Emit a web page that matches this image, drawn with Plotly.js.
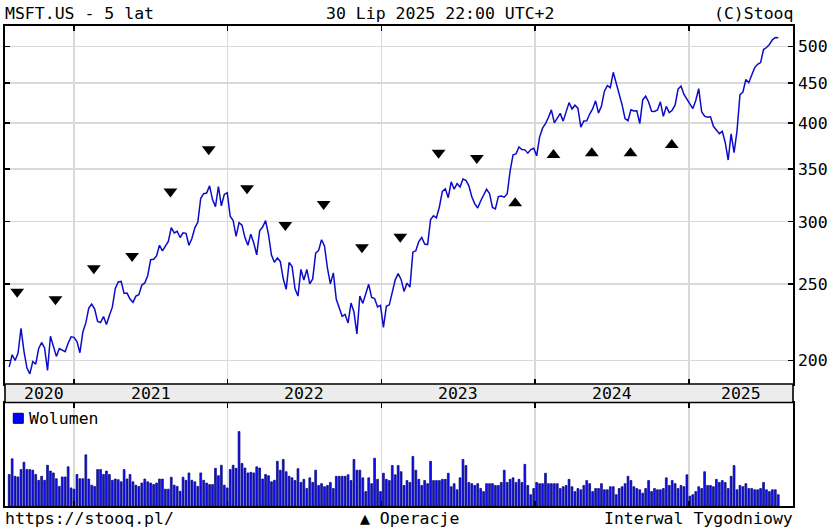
<!DOCTYPE html>
<html>
<head>
<meta charset="utf-8">
<script src="https://cdn.plot.ly/plotly-3.0.1.min.js"></script>
<style>
html,body{margin:0;padding:0;background:#fff;}
#chart{width:835px;height:531px;}
</style>
</head>
<body>
<div id="chart"></div>
<script>
// Weekly series (week ending), first week and step
const weekStart = '2020-07-31';
const weekStepMs = 7 * 24 * 3600 * 1000;

// Weekly close (adjusted)
const closes = [
196.4,203.5,200.1,
204.5,219.8,205.7,195.9,192.4,199.5,198.0,207.2,210.9,207.6,194.4,214.8,207.9,
202.5,207.2,206.4,205.3,210.4,214.4,214.1,211.4,204.7,217.5,223.3,233.2,235.9,
232.5,224.2,223.5,227.5,222.3,228.2,233.8,246.9,251.6,252.0,243.3,243.6,239.4,
237.1,241.5,242.5,249.4,250.9,256.3,268.5,268.8,271.5,280.1,275.5,279.9,283.2,
294.9,290.4,291.8,286.5,290.5,290.0,280.1,285.7,294.7,299.5,321.3,325.6,326.2,
333.1,320.0,313.5,332.5,314.3,324.9,326.5,304.8,301.1,287.4,299.2,297.0,286.4,
280.1,289.2,281.9,272.4,292.2,295.4,301.0,288.9,272.2,266.5,269.9,267.2,254.0,
246.3,266.4,263.3,246.7,241.5,261.0,253.1,261.0,250.3,253.9,273.7,275.9,284.6,
279.6,262.0,250.2,258.4,239.2,232.5,227.6,228.9,223.3,236.6,230.5,216.3,241.5,
236.4,242.5,249.9,240.5,239.8,233.9,235.0,220.4,234.4,235.4,243.2,253.2,257.8,
253.5,244.8,250.8,247.9,274.5,275.6,283.2,286.5,281.1,280.7,301.9,305.2,303.5,
313.4,327.8,330.2,321.8,337.1,329.9,335.3,332.0,339.9,338.5,333.2,322.7,316.1,
312.3,318.7,324.3,329.8,325.8,312.8,311.5,322.9,323.4,322.3,325.4,348.1,364.8,
365.7,373.2,370.3,370.0,366.5,370.3,371.8,363.6,384.1,394.2,399.4,406.6,415.8,
400.3,406.5,411.6,402.4,412.5,424.7,416.8,421.5,417.9,395.4,402.5,402.8,410.8,
417.0,426.9,412.0,420.6,439.2,446.4,443.6,464.0,450.1,433.8,422.0,405.4,402.9,
416.0,414.4,414.7,399.4,428.1,432.7,425.5,414.1,413.9,415.7,425.7,408.0,420.1,412.6,
415.4,421.9,441.9,445.6,434.9,428.9,421.7,417.4,427.4,442.4,413.5,408.2,406.9,
407.5,396.3,392.6,387.9,390.6,378.1,359.2,387.8,367.1,391.1,434.5,437.9,
454.3,450.2,460.4,470.4,475.0,477.4,495.9,498.8,503.3,510.1,513.7,513.2
];

// Weekly volume (millions)
const volumes = [
103,154,97,95,119,143,119,119,117,103,84,97,84,133,114,108,89,64,95,95,
128,59,55,103,89,89,167,88,68,64,119,119,103,114,103,84,88,86,79,119,
88,103,79,68,64,75,88,79,75,70,75,88,88,55,55,94,68,64,48,94,
84,108,84,79,64,108,84,75,70,70,123,99,133,68,59,119,133,123,243,139,
124,108,110,108,128,124,88,103,99,79,84,
146,117,152,112,97,92,83,122,77,87,57,92,77,117,67,73,63,67,77,57,
97,97,97,97,102,83,152,117,117,92,47,92,73,156,87,47,107,87,83,132,
102,132,112,67,83,77,162,117,87,67,83,73,146,83,83,83,87,87,107,63,
73,53,92,152,132,77,73,67,73,57,47,73,73,73,67,67,77,117,77,87,
92,77,87,77,136,67,37,57,77,73,73,107,73,73,
73,73,57,63,67,87,63,47,57,53,67,83,73,47,57,57,73,53,53,63,
63,37,57,63,73,97,83,63,57,53,42,57,83,47,57,53,53,57,92,67,
83,73,57,67,63,102,32,37,47,63,57,112,67,67,63,87,77,83,77,57,
97,132,53,67,63,73,57,57,53,53,57,77,53,47,53,53,37
];

// Corporate operations (dividends): date, marker level, direction
const opDates = ['2020-08-19','2020-11-18','2021-02-17','2021-05-19','2021-08-18','2021-11-17',
  '2022-02-16','2022-05-18','2022-08-17','2022-11-16','2023-02-15','2023-05-17','2023-08-16',
  '2023-11-15','2024-02-14','2024-05-15','2024-08-15','2024-11-21'];
const opLevels = [244.6,239.2,261.9,271.5,327.6,370.6,330.8,297.2,315.9,278.5,287.2,367.0,361.2,
  316.6,364.5,366.3,366.3,375.3];
const opTypes = ['down','down','down','down','down','down','down','down','down','down','down','down','down',
  'up','up','up','up','up'];

// Axis ticks and labels
const yearTicks = ['2021-01-01','2022-01-01','2023-01-01','2024-01-01','2025-01-01'];
const yearLabels = ['2020','2021','2022','2023','2024','2025'];
const yearLabelPos = ['2020-10-22','2021-07-02','2022-07-02','2023-07-02','2024-07-02','2025-05-05'];
const priceTicks = [200,250,300,350,400,450,500];

const FONT = 'DejaVu Sans Mono';
const FS = 16.5;

const traces = [
  {
    type: 'scatter', mode: 'lines', x0: weekStart, dx: weekStepMs, y: closes,
    xaxis: 'x', yaxis: 'y', line: {color: '#0c0cc8', width: 1.5}, hoverinfo: 'skip'
  },
  {
    type: 'scatter', mode: 'markers', x: opDates, y: opLevels, xaxis: 'x', yaxis: 'y',
    marker: {symbol: opTypes.map(t => t === 'up' ? 'triangle-up' : 'triangle-down'),
             size: 12, color: '#000000', line: {width: 0}},
    hoverinfo: 'skip'
  },
  {
    type: 'bar', x0: weekStart, dx: weekStepMs, y: volumes, xaxis: 'x2', yaxis: 'y2',
    marker: {color: '#1010ff', line: {color: '#00006e', width: 0.7}}, hoverinfo: 'skip'
  }
];

const gridCol = '#d9d9d9';
const xRange = ['2020-07-21', '2025-09-05'];
const xCommon = {
  type: 'date', range: xRange, tickvals: yearTicks, showticklabels: false,
  ticks: 'inside', ticklen: 5, tickwidth: 1.5, tickcolor: '#000',
  showline: true, linecolor: '#000', linewidth: 1.6, mirror: 'ticks',
  showgrid: true, gridcolor: gridCol, gridwidth: 1.5, zeroline: false, fixedrange: true
};

const ann = [];
const T = (text, x, y, xanchor, extra) => Object.assign({
  text: text, x: x, y: y, xref: 'paper', yref: 'paper', xanchor: xanchor, yanchor: 'middle',
  showarrow: false, font: {family: FONT, size: FS, color: '#000'}
}, extra || {});

ann.push(T('MSFT.US - 5 lat', -0.003, 1.027, 'left'));
ann.push(T('30 Lip 2025 22:00 UTC+2', 0.552, 1.027, 'center'));
ann.push(T('(C)Stooq', 1.002, 1.027, 'right'));
ann.push(T('https://stooq.pl/', -0.003, -0.025, 'left'));
ann.push(T('\u25B2 Operacje', 0.5133, -0.025, 'center'));
ann.push(T('Interwal Tygodniowy', 1.002, -0.025, 'right'));
ann.push(T('Wolumen', 0.0285, 0.1833, 'left'));
yearLabels.forEach((lab, i) => {
  ann.push({text: lab, x: yearLabelPos[i], xref: 'x', y: 0.2349, yref: 'paper',
    xanchor: 'center', yanchor: 'middle', showarrow: false,
    font: {family: FONT, size: FS, color: '#000'}});
});

const layout = {
  width: 835, height: 531,
  margin: {l: 5, r: 42, t: 26, b: 25, pad: 0},
  paper_bgcolor: '#fff', plot_bgcolor: '#fff',
  showlegend: false, bargap: 0.38,
  font: {family: FONT, size: FS, color: '#000'},
  xaxis: Object.assign({}, xCommon, {domain: [0, 1], anchor: 'y'}),
  xaxis2: Object.assign({}, xCommon, {domain: [0, 1], anchor: 'y2', matches: 'x'}),
  yaxis: {
    type: 'log', domain: [0.2542, 1], range: [2.27147, 2.72521], side: 'right', anchor: 'x',
    tickvals: priceTicks, ticktext: priceTicks.map(String),
    ticks: 'inside', ticklen: 5, tickwidth: 1.5, tickcolor: '#000',
    showline: true, linecolor: '#000', linewidth: 1.6, mirror: 'ticks',
    showgrid: true, gridcolor: gridCol, gridwidth: 1.5, zeroline: false,
    tickfont: {family: FONT, size: FS, color: '#000'}, fixedrange: true
  },
  yaxis2: {
    domain: [0, 0.2156], range: [0, 338], anchor: 'x2', showticklabels: false,
    showgrid: false, zeroline: false, ticks: '',
    showline: true, linecolor: '#000', linewidth: 1.6, mirror: true, fixedrange: true
  },
  shapes: [
    {type: 'rect', xref: 'paper', yref: 'paper', x0: 0, x1: 1, y0: 0.2156, y1: 0.2542,
     fillcolor: '#ececec', line: {color: '#000', width: 1.6}, layer: 'above'},
    {type: 'rect', xref: 'paper', yref: 'paper', x0: 0.0105, x1: 0.0232, y0: 0.1723, y1: 0.1931,
     fillcolor: '#0000ff', line: {color: '#000060', width: 1}, layer: 'above'}
  ],
  annotations: ann
};

Plotly.newPlot('chart', traces, layout, {staticPlot: true, displayModeBar: false});
</script>
</body>
</html>
